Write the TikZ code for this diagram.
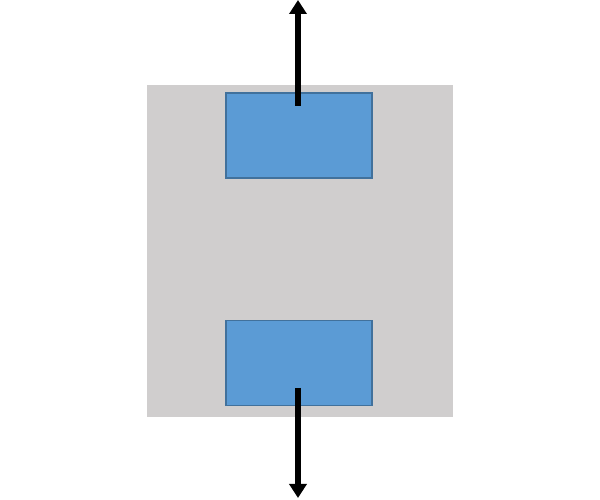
\documentclass[tikz,border=0pt]{standalone}
\usetikzlibrary{arrows.meta}
\definecolor{boxgray}{HTML}{D0CECE}
\definecolor{padblue}{HTML}{5B9BD5}
\definecolor{padedge}{HTML}{41719C}
\begin{document}
\begin{tikzpicture}[
  pad/.style = {
    shape = rectangle,
    fill = padblue,
    draw = padedge,
    line width = 0.7pt,
    minimum width = 2.92cm,
    minimum height = 1.7cm,
    inner sep = 0pt,
    outer sep = 0pt,
  },
  pull/.style = {
    line width = 3pt,
    -{Triangle[length = 0.28cm, width = 0.34cm]}
  }
]
  \useasboundingbox (0, 0) rectangle (12, 10);

  \node[fill = boxgray, minimum width = 6.12cm, minimum height = 6.64cm,
    inner sep = 0pt] (body) at (6, 4.98) {};

  \node[pad] (toppad) at (5.98, 7.29) {};
  \node[pad] (botpad) at (5.98, 2.74) {};

  \coordinate (tstart) at (5.96, 7.88);
  \coordinate (tend) at (5.96, 10);
  \coordinate (bstart) at (5.96, 2.24);
  \coordinate (bend) at (5.96, 0.04);

  \draw[pull] (tstart) -- (tend);
  \draw[pull] (bstart) -- (bend);
\end{tikzpicture}
\end{document}
